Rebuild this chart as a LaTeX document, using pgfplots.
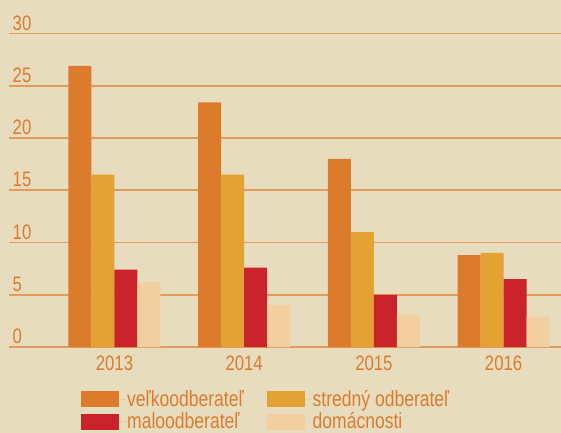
\documentclass[border=0pt]{standalone}
\usepackage{pgfplots}
\pgfplotsset{compat=1.18}
\usepackage{fontspec}
\setmainfont{Liberation Sans}[FakeStretch=0.8]
\definecolor{bg}{HTML}{E8DCBF}
\definecolor{c1}{HTML}{DB7B2B}
\definecolor{c2}{HTML}{E3A233}
\definecolor{c3}{HTML}{CB232B}
\definecolor{c4}{HTML}{F2CFA0}
\definecolor{gridc}{HTML}{E49A58}
\definecolor{txt}{HTML}{DC7B2C}
\begin{document}
\begin{tikzpicture}
\fill[bg] (-9bp,-86bp) rectangle (552bp,347bp);
\useasboundingbox (-9bp,-86bp) rectangle (552bp,347bp);
\begin{axis}[
  at={(0,0)}, anchor=south west,
  scale only axis, width=552bp, height=313.5bp,
  xmin=-0.8134, xmax=3.4426, ymin=0, ymax=30,
  ybar=0pt, bar width=23bp,
  xtick={0,1,2,3}, xticklabels={2013,2014,2015,2016},
  ytick={0,5,10,15,20,25,30},
  /pgf/number format/assume math mode=true,
  ymajorgrids, major grid style={gridc, line width=1.6bp},
  tick style={draw=none}, major tick length=0pt,
  axis line style={draw=none},
  ticklabel style={font=\fontsize{21}{21}\selectfont, text=txt},
  yticklabel style={anchor=south west, inner sep=0pt, xshift=3.5bp, yshift=3bp},
  xticklabel style={anchor=north, inner sep=0pt, yshift=-9bp},
  legend columns=2,
  legend style={at={(rel axis cs:0.1304,0)}, anchor=north west, yshift=-42bp,
    draw=none, fill=none, inner sep=0pt,
    font=\fontsize{22}{22}\selectfont, text=txt,
    nodes={inner sep=1bp},
    /tikz/every even column/.append style={column sep=22bp},
    row sep=3bp},
  legend cell align=left,
  legend image code/.code={\fill[#1,draw=none] (0bp,-8bp) rectangle (38bp,8bp);\path (0bp,0bp) -- (45bp,0bp);},
]
\addplot[fill=c1, draw=none] coordinates {(0,26.9) (1,23.4) (2,18.0) (3,8.8)};
\addplot[fill=c2, draw=none] coordinates {(0,16.5) (1,16.5) (2,11.0) (3,9.0)};
\addplot[fill=c3, draw=none] coordinates {(0,7.4) (1,7.6) (2,5.0) (3,6.5)};
\addplot[fill=c4, draw=none] coordinates {(0,6.2) (1,4.0) (2,3.1) (3,2.9)};
\legend{veľkoodberateľ, stredný odberateľ, maloodberateľ, domácnosti}
\end{axis}
\end{tikzpicture}
\end{document}
